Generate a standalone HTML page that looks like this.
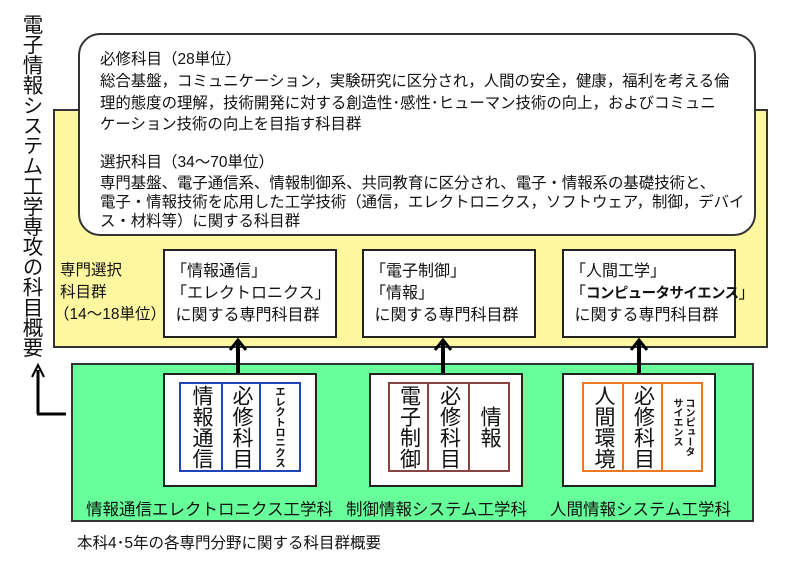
<!DOCTYPE html>
<html><head><meta charset="utf-8"><style>
*{margin:0;padding:0;box-sizing:border-box}
body{width:800px;height:567px;background:#fff;position:relative;overflow:hidden;font-family:"Liberation Sans","Noto Sans CJK JP",sans-serif;color:#111}
.a{position:absolute}
.vt{writing-mode:vertical-rl;white-space:nowrap}
.line{position:absolute;white-space:nowrap;font-size:15.4px;line-height:20px}
.wb{position:absolute;background:#fff;border:2px solid #222}
.wb div{white-space:nowrap;font-size:16px;line-height:22px}
.inner{position:absolute;display:flex}
.inner>div{display:flex;justify-content:center;align-items:center;overflow:visible}
.big{writing-mode:vertical-rl;font-size:21px;line-height:22px;white-space:nowrap}
.sm{writing-mode:vertical-rl;font-size:10.5px;font-weight:bold;line-height:12px;white-space:nowrap;letter-spacing:-0.3px}
.dept{position:absolute;top:496px;font-size:16.5px;white-space:nowrap}
</style></head><body>
<div class="a vt" style="left:18px;top:14px;font-size:20.5px;line-height:24px;letter-spacing:-0.3px">電子情報システム工学専攻の科目概要</div>
<svg class="a" style="left:0;top:0" width="800" height="567">
<path d="M38 414 V370" stroke="#000" stroke-width="3" fill="none"/>
<path d="M32 377 L38 365 L44 377" stroke="#000" stroke-width="2" fill="none"/>
<path d="M37 414 H66" stroke="#000" stroke-width="3"/>
</svg>
<div class="a" style="left:53px;top:109px;width:715px;height:239px;background:#fdf8a0;border:2px solid #333"></div>
<div class="a" style="left:78px;top:33px;width:678px;height:203px;background:#fff;border:2px solid #333;border-radius:22px"></div>
<div class="line" style="left:100px;top:50px;font-size:15.5px">必修科目（28単位）</div>
<div class="line" style="left:100px;top:72px">総合基盤，コミュニケーション，実験研究に区分され，人間の安全，健康，福利を考える倫</div>
<div class="line" style="left:100px;top:94px">理的態度の理解，技術開発に対する創造性･感性･ヒューマン技術の向上，およびコミュニ</div>
<div class="line" style="left:100px;top:115px">ケーション技術の向上を目指す科目群</div>
<div class="line" style="left:100px;top:153px;font-size:15.5px">選択科目（34～70単位）</div>
<div class="line" style="left:100px;top:174px">専門基盤、電子通信系、情報制御系、共同教育に区分され、電子・情報系の基礎技術と、</div>
<div class="line" style="left:100px;top:193px">電子・情報技術を応用した工学技術（通信，エレクトロニクス，ソフトウェア，制御，デバイ</div>
<div class="line" style="left:100px;top:212px">ス・材料等）に関する科目群</div>
<div class="a" style="left:60px;top:260px;font-size:15.5px;line-height:22px;white-space:nowrap">専門選択<br>科目群<br><span style="margin-left:-6px">（14～18単位）</span></div>
<div class="wb" style="left:163px;top:249px;width:174px;height:89px;padding:10px 0 0 6px"><div>「情報通信」</div><div>「エレクトロニクス」</div><div>&nbsp;に関する専門科目群</div></div>
<div class="wb" style="left:362px;top:249px;width:174px;height:89px;padding:10px 0 0 6px"><div>「電子制御」</div><div>「情報」</div><div>&nbsp;に関する専門科目群</div></div>
<div class="wb" style="left:562px;top:249px;width:174px;height:89px;padding:10px 0 0 6px"><div>「人間工学」</div><div>「<b style="font-size:14.5px;letter-spacing:-0.6px">コンピュータサイエンス</b>」</div><div>&nbsp;に関する専門科目群</div></div>
<div class="a" style="left:71px;top:363px;width:683px;height:159px;background:#66ff99;border:2px solid #333"></div>
<svg class="a" style="left:0;top:0" width="800" height="567">
<g stroke="#000" stroke-width="4" fill="none">
<path d="M238 373 V341"/><path d="M443 373 V341"/><path d="M639 373 V341"/>
</g>
<g stroke="#000" stroke-width="3" fill="none">
<path d="M230 350 L238 340 L246 350"/><path d="M435 350 L443 340 L451 350"/><path d="M631 350 L639 340 L647 350"/>
</g>
</svg>
<div class="wb" style="left:163px;top:373px;width:154px;height:114px"></div>
<div class="wb" style="left:369px;top:373px;width:154px;height:114px"></div>
<div class="wb" style="left:562px;top:373px;width:154px;height:114px"></div>
<div class="inner" style="left:179px;top:382px;height:90px;border:2px solid #2244bb">
<div style="width:42px;border-right:2px solid #2244bb"><span class="big">情報通信</span></div>
<div style="width:38px;border-right:2px solid #2244bb"><span class="big">必修科目</span></div>
<div style="width:38px"><span class="sm">エレクトロニクス</span></div></div>
<div class="inner" style="left:388px;top:382px;height:90px;border:2px solid #884444">
<div style="width:39px;border-right:2px solid #884444"><span class="big">電子制御</span></div>
<div style="width:41px;border-right:2px solid #884444"><span class="big">必修科目</span></div>
<div style="width:38px"><span class="big">情報</span></div></div>
<div class="inner" style="left:582px;top:382px;height:90px;border:2px solid #ee7722">
<div style="width:40px;border-right:2px solid #ee7722"><span class="big">人間環境</span></div>
<div style="width:39px;border-right:2px solid #ee7722"><span class="big">必修科目</span></div>
<div style="width:38px"><span class="sm" style="font-size:10px;line-height:12px">コンピュータ<br>サイエンス</span></div></div>
<div class="dept" style="left:86px">情報通信エレクトロニクス工学科</div>
<div class="dept" style="left:346px">制御情報システム工学科</div>
<div class="dept" style="left:550px">人間情報システム工学科</div>
<div class="a" style="left:77px;top:531px;font-size:15.5px;white-space:nowrap">本科4･5年の各専門分野に関する科目群概要</div>
</body></html>
